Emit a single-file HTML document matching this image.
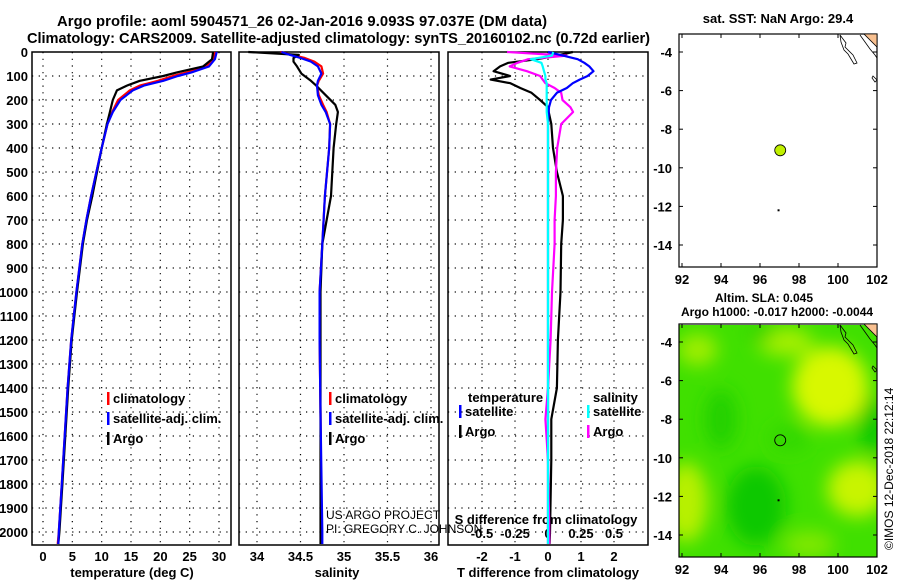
<!DOCTYPE html>
<html><head><meta charset="utf-8"><style>
html,body{margin:0;padding:0;background:#fff;}
svg{display:block;font-family:"Liberation Sans",Arial,sans-serif;font-weight:bold;}
</style></head><body>
<svg id="fig" width="900" height="580" viewBox="0 0 900 580" xmlns="http://www.w3.org/2000/svg">
<defs>
<filter id="blur" x="-50%" y="-50%" width="200%" height="200%"><feGaussianBlur stdDeviation="9"/></filter>
<clipPath id="mapclip"><rect x="679" y="325" width="198" height="232"/></clipPath>
</defs>
<text x="57" y="26" font-size="14.8" textLength="490">Argo profile: aoml 5904571_26 02-Jan-2016 9.093S 97.037E (DM data)</text>
<text x="27" y="43" font-size="14.6" textLength="623">Climatology: CARS2009. Satellite-adjusted climatology: synTS_20160102.nc (0.72d earlier)</text>
<g id="g"></g>
</svg>
<script>
// ---- data ----
const depthLevels = [0,100,200,300,400,500,600,700,800,900,1000,1100,1200,1300,1400,1500,1600,1700,1800,1900,2000];
const tempTicks = [0,5,10,15,20,25,30];
const salTicks = [34,34.5,35,35.5,36];
const salTickLabels = ["34","34.5","35","35.5","36"];
const tdiffTicks = [-2,-1,0,1,2];
const sdiffTicks = [-0.5,-0.25,0,0.25,0.5];
const sdiffTickLabels = ["-0.5","-0.25","0","0.25","0.5"];

const tDepth = [0,30,60,85,100,120,140,160,200,250,300,400,500,600,700,800,1000,1200,1400,1600,1800,2000,2050];
const tArgo  = [29.0,28.8,27.3,22.8,20.5,16.5,14.3,12.6,11.9,11.4,10.9,10.0,9.2,8.4,7.5,6.8,5.8,4.9,4.3,3.8,3.3,2.8,2.6];
const tClim  = [29.3,29.0,27.8,24.5,22.1,19.6,16.5,14.8,12.8,11.8,11.0,10.0,9.1,8.2,7.4,6.7,5.7,4.8,4.2,3.7,3.2,2.7,2.5];
const tSat   = [29.6,29.3,28.3,25.3,23.0,20.5,17.2,15.3,13.2,11.9,11.0,10.0,9.1,8.2,7.4,6.7,5.7,4.8,4.2,3.7,3.2,2.7,2.6];

const sDepth = [0,12,25,40,60,90,120,140,180,220,250,300,400,600,800,1000,1200,1500,2000,2050];
const sArgo  = [33.90,34.48,34.42,34.42,34.46,34.51,34.62,34.68,34.79,34.90,34.93,34.91,34.88,34.85,34.75,34.73,34.73,34.73,34.73,34.73];
const sClim  = [34.27,34.40,34.55,34.66,34.74,34.76,34.71,34.69,34.71,34.76,34.80,34.84,34.83,34.78,34.75,34.72,34.72,34.73,34.74,34.74];
const sSat   = [34.28,34.38,34.50,34.62,34.70,34.74,34.70,34.69,34.70,34.74,34.79,34.84,34.83,34.78,34.75,34.72,34.72,34.73,34.75,34.75];

const dDepth = [0,15,30,45,60,80,100,115,130,150,170,200,230,250,300,400,500,600,700,800,1000,1200,1400,1530,1700,2000,2050];
const dtArgo = [0.75,0.27,-0.33,-1.2,-1.45,-1.65,-1.15,-1.74,-1.14,-0.84,-0.5,-0.24,0.0,0.02,0.1,0.15,0.27,0.45,0.45,0.4,0.38,0.3,0.27,0.1,0.1,0.06,0.05];
const dtSat  = [0.0,0.45,0.9,1.1,1.25,1.38,1.2,0.96,0.75,0.57,0.27,0.09,0.03,0.02,0.0,0.0,0.0,0.0,0.0,0.0,0.0,0.0,0.0,0.0,0.0,0.0,0.0];
const dsArgo = [-0.31,0.14,-0.15,-0.23,-0.29,-0.16,-0.06,-0.04,-0.02,0.05,0.1,0.11,0.17,0.19,0.1,0.07,0.06,0.06,0.05,0.05,0.03,0.02,0.0,-0.02,0.0,0.01,0.01];
const dsSat  = [0.04,0.03,-0.13,-0.05,-0.04,-0.03,-0.02,-0.02,-0.01,-0.01,-0.01,-0.01,-0.01,-0.01,0,0,0,0,0,0,0,0,0,0,0,0,0];

const lonTicks = [92,94,96,98,100,102];
const latTicks = [-4,-6,-8,-10,-12,-14];
const floatLon = [97.037];
const floatLat = [-9.093];

// ---- helpers ----
const NS="http://www.w3.org/2000/svg";
const G=document.getElementById('g');
function el(tag,attrs,parent){const e=document.createElementNS(NS,tag);for(const k in attrs)e.setAttribute(k,attrs[k]);(parent||G).appendChild(e);return e;}
const Y0=52, PY=0.24, YB=545;
const yD=d=>Y0+d*PY;
function lin(d0,d1,p0,p1){return v=>p0+(v-d0)*(p1-p0)/(d1-d0);}

function panel(x0,x1,name,xTicks,xf){
  depthLevels.forEach(d=>{if(d>0){const l=el('line',{x1:x0,x2:x1,y1:yD(d),y2:yD(d),stroke:'#000','stroke-width':1.2,'stroke-dasharray':'1.2 5.5'});
    }});
  xTicks.forEach(t=>{const x=xf(t);const l=el('line',{x1:x,x2:x,y1:Y0,y2:YB,stroke:'#000','stroke-width':1.2,'stroke-dasharray':'1.2 5.5'});
    });
  const r=el('rect',{x:x0,y:Y0,width:x1-x0,height:YB-Y0,fill:'none',stroke:'#000','stroke-width':1.5});
  
}
function line(xs,ds,xf,color,name,w){
  const pts=xs.map((v,i)=>xf(v).toFixed(1)+','+yD(ds[i]).toFixed(1)).join(' ');
  const p=el('polyline',{points:pts,fill:'none',stroke:color,'stroke-width':w||2.2,'stroke-linejoin':'round'});
  
}
function text(x,y,s,name,opts){
  const t=el('text',Object.assign({x:x,y:y,'font-size':13},opts||{}));t.textContent=s;
  return t;
}
function legend(x,y,items,name){
  items.forEach((it,i)=>{
    const r=el('rect',{x:x,y:y+i*20-11,width:2.5,height:13,fill:it[1]});
    
    text(x+6,y+i*20,it[0],name+'-entry');
  });
}

depthLevels.forEach(d=>text(28,yD(d)+5,String(d),'y-tick-label',{'text-anchor':'end'}));

const xT=lin(0,30,43,219);
panel(32,231,'temperature-panel',tempTicks,xT);
tempTicks.forEach(t=>text(xT(t),561,String(t),'temperature-tick-label',{'text-anchor':'middle'}));
text(132,577,'temperature (deg C)','temperature-axis-title',{'text-anchor':'middle'});
line(tClim,tDepth,xT,'#f00','temperature-climatology');
line(tArgo,tDepth,xT,'#000','temperature-argo');
line(tSat,tDepth,xT,'#00f','temperature-satellite');
legend(107,403,[['climatology','#f00'],['satellite-adj. clim.','#00f'],['Argo','#000']],'temperature-legend');

const xS=lin(34,36,257,431);
panel(239,439,'salinity-panel',salTicks,xS);
salTicks.forEach((t,i)=>text(xS(t),561,salTickLabels[i],'salinity-tick-label',{'text-anchor':'middle'}));
text(337,577,'salinity','salinity-axis-title',{'text-anchor':'middle'});
line(sClim,sDepth,xS,'#f00','salinity-climatology');
line(sArgo,sDepth,xS,'#000','salinity-argo');
line(sSat,sDepth,xS,'#00f','salinity-satellite');
legend(329,403,[['climatology','#f00'],['satellite-adj. clim.','#00f'],['Argo','#000']],'salinity-legend');
text(326,519,'US ARGO PROJECT','credit-project',{'font-weight':'normal','font-size':12});
text(326,533,'PI: GREGORY C. JOHNSON','credit-pi',{'font-weight':'normal','font-size':12});

const xDT=lin(-2,2,482,614);
const xDS=lin(-0.5,0.5,482,614);
panel(448,648,'difference-panel',tdiffTicks,xDT);
tdiffTicks.forEach(t=>text(xDT(t),561,String(t),'t-diff-tick-label',{'text-anchor':'middle'}));
sdiffTicks.forEach((t,i)=>text(xDS(t),538,sdiffTickLabels[i],'s-diff-tick-label',{'text-anchor':'middle'}));
text(546,524,'S difference from climatology','s-diff-axis-title',{'text-anchor':'middle'});
text(548,577,'T difference from climatology','t-diff-axis-title',{'text-anchor':'middle'});
line(dtArgo,dDepth,xDT,'#000','t-diff-argo');
line(dsArgo,dDepth,xDS,'#f0f','s-diff-argo');
line(dtSat,dDepth,xDT,'#00f','t-diff-satellite');
line(dsSat,dDepth,xDS,'#0ff','s-diff-satellite');
text(468,402,'temperature','diff-legend-temperature-header');
legend(459,416,[['satellite','#00f'],['Argo','#000']],'diff-legend-temperature');
text(593,402,'salinity','diff-legend-salinity-header');
legend(587,416,[['satellite','#0ff'],['Argo','#f0f']],'diff-legend-salinity');

const xL=lin(92,102,682,877);
function mapAxes(off,name){
  const yL=lin(-4,-14,52+off,245+off);
  const r=el('rect',{x:679,y:34+off,width:198,height:233,fill:'none',stroke:'#000','stroke-width':1.2});
  
  lonTicks.forEach(v=>{
    const a=el('line',{x1:xL(v),x2:xL(v),y1:34+off,y2:38+off,stroke:'#000'});
    const b=el('line',{x1:xL(v),x2:xL(v),y1:263+off,y2:267+off,stroke:'#000'});
    text(xL(v),284+off,String(v),name+'-lon-label',{'text-anchor':'middle'});});
  latTicks.forEach(v=>{
    const a=el('line',{x1:679,x2:683,y1:yL(v),y2:yL(v),stroke:'#000'});
    const b=el('line',{x1:873,x2:877,y1:yL(v),y2:yL(v),stroke:'#000'});
    text(672,yL(v)+5,String(v),name+'-lat-label',{'text-anchor':'end'});});
  const land=el('path',{d:`M864 ${34+off} L877 ${34+off} L877 ${47+off} Z`,fill:'#f8c090',stroke:'#000','stroke-width':0.8});
  
  const c=el('path',{d:`M840 ${35+off} l6 8 l-1 4 l8 8 l4 8 l-3 1 l-6 -10 l-4 -4 l-3 -8 Z M860 ${35+off} l10 14 l5 6 l2 3 M873 ${76+off} l4 4 l-2 2 l-3 -4 Z`,fill:'none',stroke:'#000','stroke-width':0.8});
  
  return yL;
}
text(778,23,'sat. SST: NaN Argo: 29.4','sst-map-title',{'text-anchor':'middle'});
const yTop=mapAxes(0,'sst-map');
floatLon.forEach((v,i)=>{const c=el('circle',{cx:xL(v),cy:yTop(floatLat[i]),r:5.5,fill:'#c0f000',stroke:'#000','stroke-width':0.8});
  });
const d1=el('rect',{x:xL(96.9),y:yTop(-12.15),width:2,height:2,fill:'#000'});

text(764,302,'Altim. SLA: 0.045','sla-map-title-1',{'text-anchor':'middle','font-size':12});
text(777,316,'Argo h1000: -0.017 h2000: -0.0044','sla-map-title-2',{'text-anchor':'middle','font-size':12});
const hm=el('g',{'clip-path':'url(#mapclip)'});
el('rect',{x:679,y:325,width:198,height:232,fill:'#40e000'},hm);
const bl=el('g',{filter:'url(#blur)'},hm);
const blobs=[[99.6,-6.3,38,40,'#d8f800'],[101,-11.6,30,28,'#c8f400'],[92.2,-12.3,22,40,'#b8f000'],[97.3,-4,28,14,'#a8f000'],[92.8,-4.4,20,16,'#a0ee00'],[95.8,-12.5,30,40,'#10c800'],[101.8,-8.3,14,30,'#10c800'],[94,-8,16,30,'#20d000'],[97.5,-9,20,14,'#30d800'],[96,-3.5,14,10,'#30d400'],[98.5,-14.5,26,14,'#80e800']];
blobs.forEach(b=>el('ellipse',{cx:xL(b[0]),cy:yTop(b[1])+290,rx:b[2],ry:b[3],fill:b[4]},bl));
const yBot=mapAxes(290,'sla-map');
floatLon.forEach((v,i)=>{const c=el('circle',{cx:xL(v),cy:yBot(floatLat[i]),r:5.5,fill:'none',stroke:'#000','stroke-width':0.9});
  });
const d2=el('rect',{x:xL(96.9),y:yBot(-12.15),width:2,height:2,fill:'#000'});
text(893,550,'©IMOS 12-Dec-2018 22:12:14','imos-credit',{'font-weight':'normal','font-size':12,transform:'rotate(-90 893 550)'});
</script>
</body></html>
